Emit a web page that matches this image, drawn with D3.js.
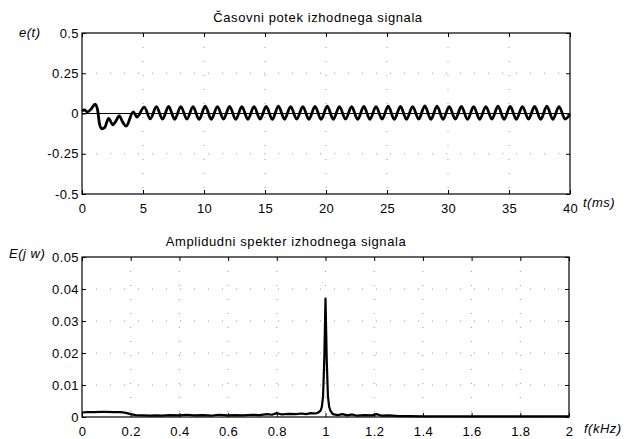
<!DOCTYPE html>
<html>
<head>
<meta charset="utf-8">
<script src="https://cdn.jsdelivr.net/npm/d3@7"></script>
<style>
  body { margin: 0; background: #fff; }
  svg { display: block; font-family: "Liberation Sans", Arial, sans-serif; }
  .grid line { stroke: #999; stroke-width: 1; stroke-dasharray: 1,13; }
  .lbl { font-style: italic; font-size: 13px; letter-spacing: 0.5px; }
</style>
</head>
<body>
<svg id="chart" width="627" height="439"></svg>
<script>
// time signal e(t), t in ms  [t, e]
const signalPoints = [
  [0, 0.015], [0.2, 0.022], [0.45, 0.01], [0.75, 0.028], [1.08, 0.058], [1.28, 0.02],
  [1.45, -0.07], [1.62, -0.095], [1.85, -0.088], [2.18, -0.03], [2.52, -0.07], [2.75, -0.05],
  [3.05, -0.015], [3.35, -0.055], [3.62, -0.078], [4.2, 0.01], [4.5, -0.022],
  [5.1, 0.040], [5.6, -0.033], [6.1, 0.042], [6.6, -0.035], [7.1, 0.044], [7.6, -0.036],
  [8.1, 0.043], [8.6, -0.035], [9.1, 0.042], [9.6, -0.037], [10.1, 0.045], [10.6, -0.036],
  [11.1, 0.043], [11.6, -0.035], [12.1, 0.044], [12.6, -0.037], [13.1, 0.042], [13.6, -0.036],
  [14.1, 0.043], [14.6, -0.035], [15.1, 0.044], [15.6, -0.037], [16.1, 0.046], [16.6, -0.036],
  [17.1, 0.043], [17.6, -0.035], [18.1, 0.042], [18.6, -0.036], [19.1, 0.044], [19.6, -0.037],
  [20.1, 0.045], [20.6, -0.036], [21.1, 0.043], [21.6, -0.035], [22.1, 0.042], [22.6, -0.037],
  [23.1, 0.044], [23.6, -0.036], [24.1, 0.043], [24.6, -0.035], [25.1, 0.045], [25.6, -0.037],
  [26.1, 0.044], [26.6, -0.036], [27.1, 0.043], [27.6, -0.035], [28.1, 0.047], [28.6, -0.037],
  [29.1, 0.045], [29.6, -0.036], [30.1, 0.043], [30.6, -0.035], [31.1, 0.044], [31.6, -0.037],
  [32.1, 0.042], [32.6, -0.036], [33.1, 0.043], [33.6, -0.035], [34.1, 0.045], [34.6, -0.037],
  [35.1, 0.044], [35.6, -0.036], [36.1, 0.043], [36.6, -0.035], [37.1, 0.044], [37.6, -0.037],
  [38.1, 0.045], [38.6, -0.036], [39.1, 0.043], [39.6, -0.035], [40, -0.005]
];

// amplitude spectrum |E(jw)|, f in kHz
const spectrumF = [0, 0.02, 0.05, 0.08, 0.1, 0.13, 0.16, 0.18, 0.2, 0.22, 0.25, 0.28, 0.3, 0.33, 0.36,
  0.4, 0.43, 0.46, 0.5, 0.53, 0.56, 0.6, 0.63, 0.66, 0.7, 0.73, 0.76, 0.78, 0.8, 0.82, 0.85, 0.88,
  0.9, 0.92, 0.94, 0.96, 0.97, 0.98, 0.985, 0.99, 0.995, 1.0, 1.005, 1.01, 1.015, 1.02, 1.03, 1.05,
  1.07, 1.09, 1.11, 1.13, 1.16, 1.19, 1.21, 1.23, 1.26, 1.3, 1.35, 1.4, 1.5, 1.6, 1.7, 1.8, 1.9, 2];
const spectrumE = [0.0014, 0.0015, 0.0015, 0.0016, 0.0016, 0.0015, 0.0015, 0.0013, 0.0009, 0.0006,
  0.0005, 0.0004, 0.0005, 0.0004, 0.0006, 0.0005, 0.0007, 0.0005, 0.0006, 0.0004, 0.0007, 0.0005,
  0.0006, 0.0005, 0.0007, 0.0006, 0.0009, 0.0007, 0.0012, 0.0008, 0.001, 0.0009, 0.0011, 0.0009,
  0.0012, 0.0011, 0.0014, 0.002, 0.0032, 0.0065, 0.018, 0.037, 0.018, 0.0065, 0.0032, 0.002, 0.0009,
  0.0006, 0.0009, 0.0005, 0.0008, 0.0004, 0.0006, 0.0005, 0.0009, 0.0004, 0.0005, 0.0003, 0.0003,
  0.0002, 0.0002, 0.0002, 0.0002, 0.0002, 0.0002, 0.0002];

const timeTicks = [0, 5, 10, 15, 20, 25, 30, 35, 40];
const eTicks = [-0.5, -0.25, 0, 0.25, 0.5];
const freqTicks = [0, 0.2, 0.4, 0.6, 0.8, 1, 1.2, 1.4, 1.6, 1.8, 2];
const ampTicks = [0, 0.01, 0.02, 0.03, 0.04, 0.05];

const svg = d3.select("#chart");

function drawPanel(opt) {
  const x = d3.scaleLinear().domain(opt.xDomain).range([opt.left, opt.right]);
  const y = d3.scaleLinear().domain(opt.yDomain).range([opt.bottom, opt.top]);
  const g = svg.append("g");

  // dotted grid
  const grid = g.append("g").attr("class", "grid");
  grid.selectAll(".gx").data(opt.xTicks.slice(1, -1)).join("line")
    .attr("x1", d => x(d)).attr("x2", d => x(d))
    .attr("y1", opt.top).attr("y2", opt.bottom);
  grid.selectAll(".gy").data(opt.yTicks.slice(1, -1)).join("line")
    .attr("x1", opt.left).attr("x2", opt.right)
    .attr("y1", d => y(d)).attr("y2", d => y(d));

  // inward ticks on all four sides
  const t = 4;
  g.append("g").attr("transform", `translate(0,${opt.bottom})`)
    .call(d3.axisBottom(x).tickValues(opt.xTicks).tickSize(-t).tickPadding(10).tickFormat(opt.xFmt));
  g.append("g").attr("transform", `translate(0,${opt.top})`)
    .call(d3.axisTop(x).tickValues(opt.xTicks).tickSize(-t).tickFormat(""));
  g.append("g").attr("transform", `translate(${opt.left},0)`)
    .call(d3.axisLeft(y).tickValues(opt.yTicks).tickSize(-t).tickPadding(3).tickFormat(opt.yFmt));
  g.append("g").attr("transform", `translate(${opt.right},0)`)
    .call(d3.axisRight(y).tickValues(opt.yTicks).tickSize(-t).tickFormat(""));

  g.selectAll(".domain").remove();
  g.selectAll(".tick line").attr("stroke", "#000");
  g.selectAll(".tick text").attr("font-size", 13).attr("font-family", "Liberation Sans, Arial, sans-serif")
    .attr("letter-spacing", 0.4).attr("fill", "#000");

  g.append("rect")
    .attr("x", opt.left).attr("y", opt.top)
    .attr("width", opt.right - opt.left).attr("height", opt.bottom - opt.top)
    .attr("fill", "none").attr("stroke", "#000").attr("stroke-width", 1.2);

  g.append("text").attr("x", opt.titleX).attr("y", opt.top - 11)
    .attr("text-anchor", "middle").attr("font-size", 13).attr("letter-spacing", 0.6)
    .text(opt.title);

  return { x, y, g };
}

// top panel: time response
const timePanel = drawPanel({
  left: 82, right: 570, top: 33, bottom: 194,
  xDomain: [0, 40], yDomain: [-0.5, 0.5],
  xTicks: timeTicks, yTicks: eTicks,
  xFmt: d3.format("d"), yFmt: d => d === 0 ? "0" : String(d),
  title: "Časovni potek izhodnega signala", titleX: 318
});

timePanel.g.append("line")
  .attr("x1", 82).attr("x2", 570)
  .attr("y1", timePanel.y(0)).attr("y2", timePanel.y(0))
  .attr("stroke", "#000").attr("stroke-width", 1);

timePanel.g.append("path")
  .datum(signalPoints)
  .attr("fill", "none").attr("stroke", "#000").attr("stroke-width", 2.8)
  .attr("stroke-linejoin", "round")
  .attr("d", d3.line().x(d => timePanel.x(d[0])).y(d => timePanel.y(d[1])).curve(d3.curveMonotoneX));

svg.append("text").attr("class", "lbl").attr("x", 19).attr("y", 37).text("e(t)");
svg.append("text").attr("class", "lbl").attr("x", 583).attr("y", 207).text("t(ms)");

// bottom panel: amplitude spectrum
const specPanel = drawPanel({
  left: 82, right: 569, top: 257, bottom: 417,
  xDomain: [0, 2], yDomain: [0, 0.05],
  xTicks: freqTicks, yTicks: ampTicks,
  xFmt: d => d === 0 ? "0" : String(d), yFmt: d => d === 0 ? "0" : d3.format(".2f")(d),
  title: "Amplidudni spekter izhodnega signala", titleX: 286
});

specPanel.g.append("path")
  .datum(d3.zip(spectrumF, spectrumE))
  .attr("fill", "none").attr("stroke", "#000").attr("stroke-width", 2.2)
  .attr("stroke-linejoin", "round")
  .attr("d", d3.line().x(d => specPanel.x(d[0])).y(d => specPanel.y(d[1])));

svg.append("text").attr("class", "lbl").attr("x", 9).attr("y", 258).text("E(j w)");
svg.append("text").attr("class", "lbl").attr("x", 584).attr("y", 433).text("f(kHz)");
</script>
</body>
</html>
